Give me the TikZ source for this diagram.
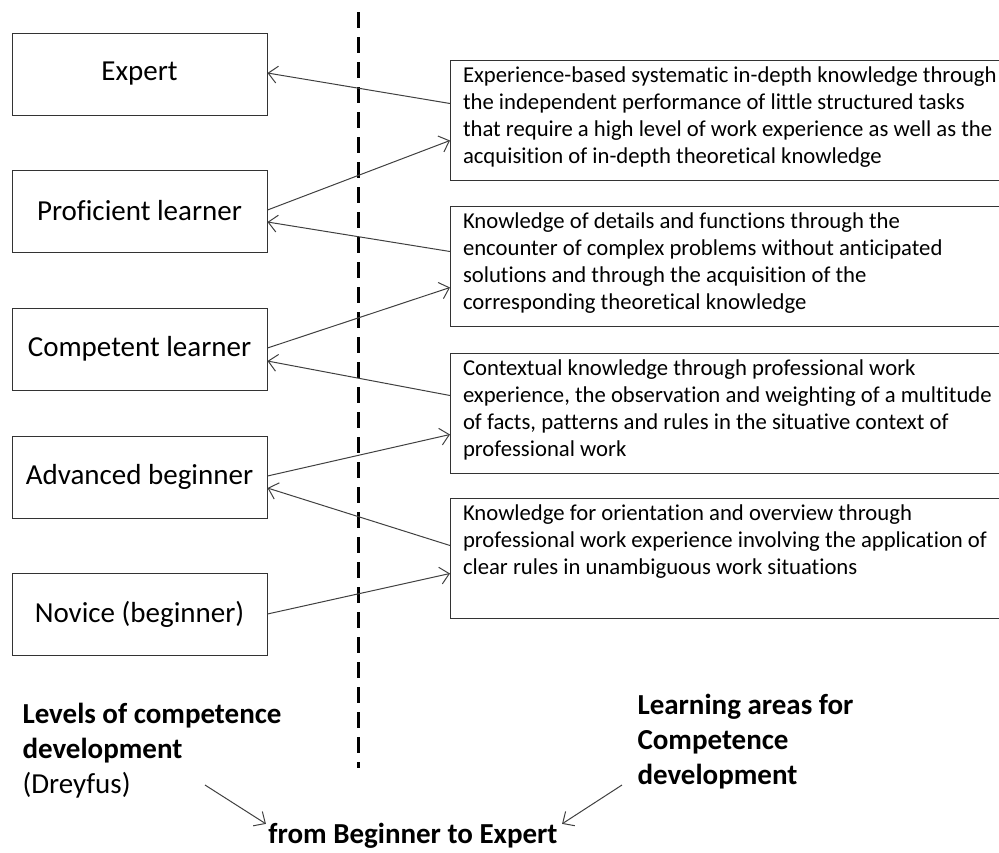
\documentclass[tikz,border=0pt]{standalone}
\usepackage{fontspec}
\setmainfont{Carlito}[Ligatures=NoCommon]
\usetikzlibrary{arrows.meta}

% fixed-height text block for the learning areas, text kept at the top
\newcommand{\areatext}[1]{\parbox[c][108pt][t]{545pt}{\raggedright #1}}

\begin{document}
\begin{tikzpicture} [x=1pt, y=-1pt, line width=1pt,
  level/.style={draw=black!80, rectangle, minimum width=255pt, minimum height=82pt, inner sep=0pt, font=\fontsize{29}{34}\selectfont},
  area/.style={draw=black!80, rectangle, anchor=north west, minimum width=570pt, inner xsep=12pt, inner ysep=6pt, font=\fontsize{22.7}{27}\selectfont},
  link/.style={draw=black!75, -{Straight Barb[length=9pt,width=17pt]}},
  caption/.style={anchor=north west, align=left, inner sep=0pt, font=\fontsize{29}{35}\selectfont\bfseries}]

\useasboundingbox (0,0) rectangle (999,852);
\clip (0,0) rectangle (999,852);

% Dreyfus levels
\node at (139.5,74) [level] (expert) {Expert};
\node at (139.5,211) [level] (prof) {Proficient learner};
\node at (139.5,349) [level] (comp) {Competent learner};
\node at (139.5,477) [level] (adv) {Advanced beginner};
\node at (139.5,614) [level] (nov) {Novice (beginner)};

% learning areas
\node at (450,60) [area] (a1) {\areatext{Experience-based systematic in-depth knowledge through\\the independent performance of little structured tasks\\that require a high level of work experience as well as the\\acquisition of in-depth theoretical knowledge}};
\node at (450,206) [area] (a2) {\areatext{Knowledge of details and functions through the\\encounter of complex problems without anticipated\\solutions and through the acquisition of the\\corresponding theoretical knowledge}};
\node at (450,353) [area] (a3) {\areatext{Contextual knowledge through professional work\\experience, the observation and weighting of a multitude\\of facts, patterns and rules in the situative context of\\professional work}};
\node at (450,498) [area] (a4) {\areatext{Knowledge for orientation and overview through\\professional work experience involving the application of\\clear rules in unambiguous work situations}};

% divider
\coordinate (divtop) at (358,12);
\coordinate (divbot) at (358,768);
\draw [line width=3pt, dash pattern=on 16pt off 9pt] (divtop) -- (divbot);

% links between levels and areas
\path ([yshift=17pt]a1.west) edge [link] ([yshift=1pt]expert.east);
\path ([yshift=1pt]prof.east) edge [link] ([yshift=-20pt]a1.west);
\path ([yshift=15pt]a2.west) edge [link] ([yshift=-11pt]prof.east);
\path ([yshift=1pt]comp.east) edge [link] ([yshift=-21pt]a2.west);
\path ([yshift=18pt]a3.west) edge [link] ([yshift=-12pt]comp.east);
\path ([yshift=1pt]adv.east) edge [link] ([yshift=-21pt]a3.west);
\path ([yshift=13pt]a4.west) edge [link] ([yshift=-11pt]adv.east);
\path (nov.east) edge [link] ([yshift=-15pt]a4.west);

% captions
\node at (22,703) [caption] (levels) {Levels of competence\\development\\{\mdseries (Dreyfus)}};
\node at (637,694) [caption] (areas) {Learning areas for\\Competence\\development};
\node at (413,836) [caption, anchor=center] (goal) {from Beginner to Expert};

\coordinate (lfrom) at (205,785);
\coordinate (rfrom) at (622,785);
\path (lfrom) edge [link] ([shift={(-2pt,-1pt)}]goal.north west);
\path (rfrom) edge [link] ([shift={(4pt,-1pt)}]goal.north east);

\end{tikzpicture}
\end{document}
